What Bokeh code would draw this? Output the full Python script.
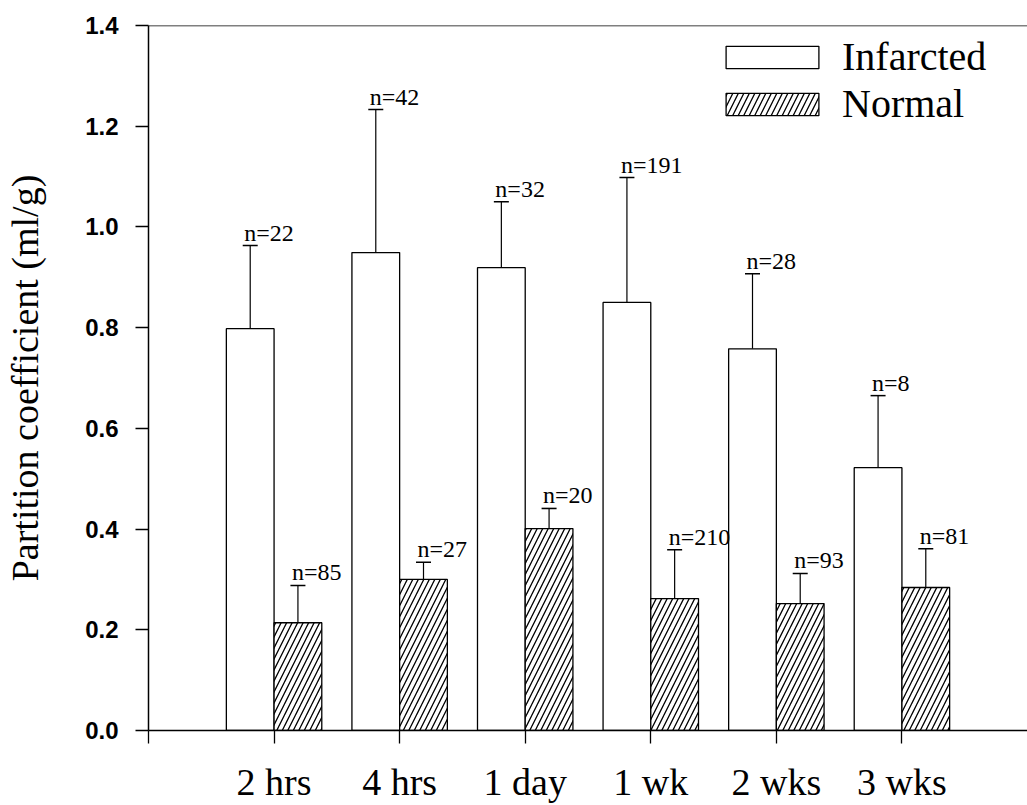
from bokeh.plotting import figure
from bokeh.models import (ColumnDataSource, Range1d, FixedTicker, PrintfTickFormatter,
                          Whisker, TeeHead, Span, Legend, LegendItem)
from bokeh.embed import file_html
from bokeh.resources import INLINE

# ---- data ----
categories = ["2 hrs", "4 hrs", "1 day", "1 wk", "2 wks", "3 wks"]
infarcted = [0.798, 0.949, 0.919, 0.850, 0.758, 0.522]
infarcted_err = [0.165, 0.284, 0.131, 0.248, 0.149, 0.143]
infarcted_n = [22, 42, 32, 191, 28, 8]
normal = [0.214, 0.300, 0.401, 0.262, 0.252, 0.284]
normal_err = [0.074, 0.034, 0.040, 0.097, 0.060, 0.077]
normal_n = [85, 27, 20, 210, 93, 81]
y_ticks = [0.0, 0.2, 0.4, 0.6, 0.8, 1.0, 1.2, 1.4]

SERIF = "Liberation Serif"
SANS = "Liberation Sans"

idx = list(range(1, len(categories) + 1))
bw = 0.38
inf_src = ColumnDataSource(dict(
    x=[i - bw / 2 for i in idx], top=infarcted,
    upper=[v + e for v, e in zip(infarcted, infarcted_err)],
    label=["n=%d" % n for n in infarcted_n]))
nor_src = ColumnDataSource(dict(
    x=[i + bw / 2 for i in idx], top=normal,
    upper=[v + e for v, e in zip(normal, normal_err)],
    label=["n=%d" % n for n in normal_n]))

p = figure(frame_width=879, frame_height=705,
           x_range=Range1d(0, len(categories) + 1), y_range=Range1d(0, 1.4),
           output_backend="svg", toolbar_location=None,
           min_border_left=148, min_border_right=0, min_border_top=25,
           min_border_bottom=70)
p.grid.visible = False
p.outline_line_color = None
p.background_fill_color = "white"
p.border_fill_color = "white"

r_inf = p.vbar(x="x", top="top", width=bw, bottom=0, source=inf_src,
               fill_color="white", line_color="black", line_width=1.3)
r_nor = p.vbar(x="x", top="top", width=bw, bottom=0, source=nor_src,
               fill_color="white", line_color="black", line_width=1.3,
               hatch_pattern="/", hatch_color="black", hatch_scale=11,
               hatch_weight=1.3)

for src in (inf_src, nor_src):
    w = Whisker(source=src, base="x", lower="top", upper="upper",
                line_color="black", line_width=1.2,
                upper_head=TeeHead(size=15, line_color="black", line_width=1.5),
                lower_head=None)
    p.add_layout(w)
    p.text(x="x", y="upper", text="label", source=src,
           text_font=SERIF, text_font_size="24px", text_color="black",
           text_align="left", text_baseline="alphabetic",
           x_offset=-6, y_offset=-13)

p.add_layout(Span(location=1.4, dimension="width", line_color="black", line_width=1.5))

# axes
xa = p.xaxis[0]
xa.ticker = FixedTicker(ticks=[0] + idx)
xa.major_label_overrides = {0: "", **{i: c for i, c in zip(idx, categories)}}
xa.major_label_text_font = SERIF
xa.major_label_text_font_size = "38px"
xa.major_label_text_color = "black"
xa.major_label_standoff = 17
xa.major_tick_out = 13
xa.major_tick_in = 0
xa.minor_tick_line_color = None
xa.axis_line_width = 1.5
xa.major_tick_line_width = 1.3

ya = p.yaxis[0]
ya.ticker = FixedTicker(ticks=y_ticks)
ya.formatter = PrintfTickFormatter(format="%.1f")
ya.major_label_text_font = SANS
ya.major_label_text_font_style = "bold"
ya.major_label_text_font_size = "24px"
ya.major_label_text_color = "black"
ya.major_label_standoff = 17
ya.major_tick_out = 13
ya.major_tick_in = 0
ya.minor_tick_line_color = None
ya.axis_line_width = 1.5
ya.major_tick_line_width = 1.3
ya.axis_label = "Partition coefficient (ml/g)"
ya.axis_label_text_font = SERIF
ya.axis_label_text_font_size = "38px"
ya.axis_label_text_font_style = "normal"
ya.axis_label_text_color = "black"
ya.axis_label_standoff = 36

legend = Legend(items=[LegendItem(label="Infarcted", renderers=[r_inf]),
                       LegendItem(label="Normal", renderers=[r_nor])],
                location=(566, 603), glyph_width=116, glyph_height=28,
                label_text_font=SERIF, label_text_font_size="40px",
                label_text_color="black", label_standoff=12,
                padding=0, margin=0, spacing=-2,
                border_line_color=None, background_fill_alpha=0)
p.add_layout(legend)

open("out.html", "w").write(file_html(p, INLINE))
